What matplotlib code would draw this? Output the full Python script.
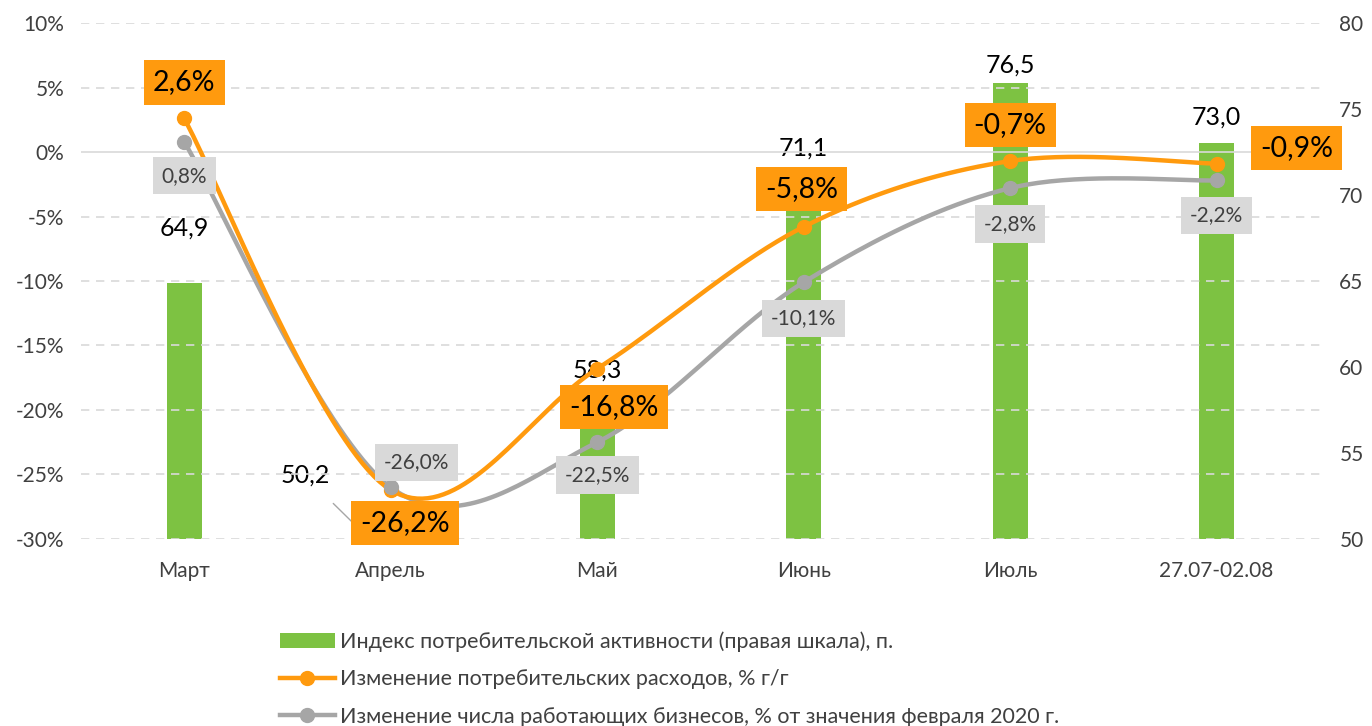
import numpy as np
import matplotlib.pyplot as plt
from matplotlib.lines import Line2D
from matplotlib.patches import Patch

plt.rcParams['font.family'] = ['Lato', 'DejaVu Sans']

months = ["Март", "Апрель", "Май", "Июнь", "Июль", "27.07-02.08"]
activity = [64.9, 50.2, 58.3, 71.1, 76.5, 73.0]          # right axis
spending = [2.6, -26.2, -16.8, -5.8, -0.7, -0.9]          # % y/y
business = [0.8, -26.0, -22.5, -10.1, -2.8, -2.2]         # % of Feb 2020

spend_lbl = ["2,6%", "-26,2%", "-16,8%", "-5,8%", "-0,7%", "-0,9%"]
bus_lbl = ["0,8%", "-26,0%", "-22,5%", "-10,1%", "-2,8%", "-2,2%"]
act_lbl = ["64,9", "50,2", "58,3", "71,1", "76,5", "73,0"]

GREEN = "#7dc242"
ORANGE = "#ff9a0e"
GRAY = "#a6a6a6"


def smooth(x, y, n=40):
    # catmull-rom style smoothing, similar to excel "smoothed line"
    x = np.asarray(x, float)
    y = np.asarray(y, float)
    px = np.concatenate([[x[0]], x, [x[-1]]])
    py = np.concatenate([[y[0]], y, [y[-1]]])
    xs, ys = [], []
    t = np.linspace(0, 1, n)
    for i in range(1, len(px) - 2):
        p0, p1, p2, p3 = [np.array([px[j], py[j]]) for j in (i - 1, i, i + 1, i + 2)]
        c1 = p1 + (p2 - p0) / 6
        c2 = p2 - (p3 - p1) / 6
        pts = ((1 - t) ** 3)[:, None] * p1 + (3 * (1 - t) ** 2 * t)[:, None] * c1 \
            + (3 * (1 - t) * t ** 2)[:, None] * c2 + (t ** 3)[:, None] * p2
        xs.extend(pts[:, 0])
        ys.extend(pts[:, 1])
    return np.array(xs), np.array(ys)


fig = plt.figure(figsize=(13.72, 7.26), dpi=100)
ax = fig.add_axes([0.059, 0.2576, 0.903, 0.7107])
ax2 = ax.twinx()

x = np.arange(len(months))

# bars on the right axis, drawn behind the lines
ax2.bar(x, np.array(activity) - 50, bottom=50, width=0.17, color=GREEN, zorder=1)
ax2.set_ylim(50, 80)
ax2.set_yticks(np.arange(50, 81, 5))
ax2.tick_params(axis="y", length=0, labelsize=15, colors="#404040", pad=14)
ax.set_zorder(ax2.get_zorder() + 1)
ax.patch.set_visible(False)

for s in list(ax.spines.values()) + list(ax2.spines.values()):
    s.set_visible(False)

ax.set_xlim(-0.5, 5.5)
ax.set_ylim(-30, 10)
ax.set_yticks(np.arange(-30, 11, 5))
ax.set_yticklabels([f"{v}%" for v in range(-30, 11, 5)])
ax.set_xticks(x)
ax.set_xticklabels(months)
ax.tick_params(axis="both", length=0, labelsize=15, colors="#404040")
ax.tick_params(axis="x", pad=16)
ax.tick_params(axis="y", pad=12)
for v in range(-30, 11, 5):
    if v == 0:
        ax.axhline(v, color="#d9d9d9", lw=1.2, zorder=0)
    else:
        ax.axhline(v, color="#d9d9d9", lw=1.2, ls=(0, (5, 4)), zorder=0)

# lines first, markers on top
for vals, col in [(business, GRAY), (spending, ORANGE)]:
    sx, sy = smooth(x, vals)
    ax.plot(sx, sy, color=col, lw=3.2, solid_capstyle="round", zorder=3)
for vals, col in [(spending, ORANGE), (business, GRAY)]:
    ax.plot(x, vals, "o", color=col, ms=10, zorder=4)

# activity labels
act_off = [(0, 55), (-61, 60), (0, 26), (0, 28), (0, 18), (0, 26)]
for i, (v, lb) in enumerate(zip(activity, act_lbl)):
    ox, oy = act_off[i]
    kw = {}
    if i == 1:
        kw["arrowprops"] = dict(arrowstyle="-", color="#a6a6a6", lw=1,
                                shrinkA=14, shrinkB=0)
    ax2.annotate(lb, (x[i] - 0.12 if i == 1 else x[i], v), xytext=(ox, oy),
                 textcoords="offset pixels", ha="center", va="center",
                 fontsize=18, color="black", zorder=5, **kw)

# spending labels
sp_off = [(0, 36), (14, -33), (17, -38), (-2, 38), (0, 36), (80, 16)]
for i, (v, lb) in enumerate(zip(spending, spend_lbl)):
    ox, oy = sp_off[i]
    ax.annotate(lb, (x[i], v), xytext=(ox, oy), textcoords="offset pixels",
                ha="center", va="center", fontsize=20.5, color="black", zorder=6,
                bbox=dict(boxstyle="square,pad=0.32", fc=ORANGE, ec="none"))

# business labels
bu_off = [(0, -34), (26, 25), (0, -33), (0, -36), (0, -36), (0, -35)]
for i, (v, lb) in enumerate(zip(business, bus_lbl)):
    ox, oy = bu_off[i]
    ax.annotate(lb, (x[i], v), xytext=(ox, oy), textcoords="offset pixels",
                ha="center", va="center", fontsize=15, color="#404040", zorder=6,
                bbox=dict(boxstyle="square,pad=0.42", fc="#d9d9d9", ec="none"))

handles = [
    Patch(facecolor=GREEN, edgecolor="none"),
    Line2D([], [], color=ORANGE, lw=3.2, marker="o", ms=10),
    Line2D([], [], color=GRAY, lw=3.2, marker="o", ms=10),
]
labels = [
    "Индекс потребительской активности (правая шкала), п.",
    "Изменение потребительских расходов, % г/г",
    "Изменение числа работающих бизнесов, % от значения февраля 2020 г.",
]
fig.legend(handles, labels, loc="upper left", bbox_to_anchor=(0.204, 0.13),
           frameon=False, fontsize=15.5, labelcolor="#404040", handlelength=2.55,
           handletextpad=0.25, labelspacing=0.8, borderaxespad=0, borderpad=0)

fig.savefig("out.png", dpi=100)
